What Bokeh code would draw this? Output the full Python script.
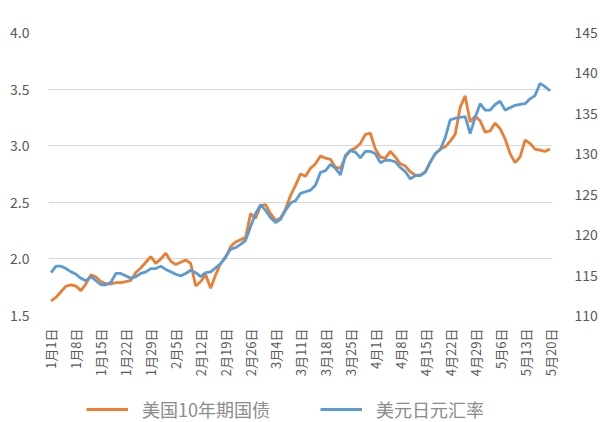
from bokeh.plotting import figure
from bokeh.layouts import column
from bokeh.models import (Range1d, LinearAxis, FixedTicker, ColumnDataSource,
                          Legend, LegendItem, Label)
from bokeh.embed import file_html
from bokeh.resources import INLINE
import math

# ---- data -------------------------------------------------------------
tick_labels = ["1月1日", "1月8日", "1月15日", "1月22日", "1月29日", "2月5日",
               "2月12日", "2月19日", "2月26日", "3月4日", "3月11日", "3月18日",
               "3月25日", "4月1日", "4月8日", "4月15日", "4月22日", "4月29日",
               "5月6日", "5月13日", "5月20日"]

us10y = [1.63, 1.66, 1.71, 1.76, 1.77, 1.76, 1.72, 1.78, 1.86, 1.84,
         1.80, 1.78, 1.78, 1.79, 1.79, 1.80, 1.81, 1.88, 1.92, 1.97,
         2.02, 1.96, 2.00, 2.05, 1.98, 1.95, 1.97, 1.99, 1.96, 1.76,
         1.80, 1.86, 1.74, 1.86, 1.96, 2.01, 2.11, 2.15, 2.17, 2.19,
         2.40, 2.36, 2.47, 2.48, 2.40, 2.34, 2.36, 2.44, 2.56, 2.65,
         2.75, 2.73, 2.80, 2.84, 2.91, 2.89, 2.88, 2.81, 2.80, 2.90,
         2.96, 2.98, 3.02, 3.10, 3.11, 2.97, 2.90, 2.89, 2.95, 2.90,
         2.84, 2.82, 2.77, 2.74, 2.74, 2.77, 2.85, 2.93, 2.97, 2.99,
         3.04, 3.10, 3.34, 3.44, 3.21, 3.26, 3.22, 3.12, 3.13, 3.20,
         3.15, 3.06, 2.93, 2.85, 2.90, 3.05, 3.02, 2.97, 2.96, 2.95,
         2.97]

usdjpy = [115.3, 116.1, 116.1, 115.8, 115.4, 115.1, 114.6, 114.3, 114.8, 114.3,
          113.8, 113.8, 114.1, 115.2, 115.2, 114.9, 114.6, 114.8, 115.2, 115.4,
          115.8, 115.8, 116.1, 115.7, 115.4, 115.1, 114.9, 115.2, 115.6, 115.3,
          114.8, 115.3, 115.4, 115.9, 116.4, 117.3, 118.2, 118.4, 118.8, 119.3,
          121.0, 122.6, 123.7, 123.0, 122.1, 121.5, 121.9, 123.0, 123.9, 124.2,
          125.1, 125.3, 125.5, 126.1, 127.7, 127.9, 128.7, 128.2, 127.4, 129.8,
          130.4, 130.2, 129.5, 130.3, 130.3, 130.0, 128.9, 129.2, 129.2, 129.0,
          128.3, 127.8, 126.9, 127.3, 127.3, 127.7, 129.0, 130.0, 130.5, 132.0,
          134.2, 134.4, 134.5, 134.6, 132.5, 134.5, 136.2, 135.4, 135.4, 136.1,
          136.5, 135.4, 135.7, 136.0, 136.1, 136.2, 136.8, 137.2, 138.7, 138.3,
          137.8]

series_names = ["美国10年期国债", "美元日元汇率"]
series_colors = ["#ED7D31", "#5B9BD5"]

left_ticks = [1.5, 2.0, 2.5, 3.0, 3.5, 4.0]
right_ticks = [110, 115, 120, 125, 130, 135, 140, 145]

x_idx = list(range(len(us10y)))
tick_pos = x_idx[::5]

# ---- main figure ------------------------------------------------------
FONT = "Noto Sans CJK SC"
LBL = "#595959"

p = figure(width=600, height=397, output_backend="svg", toolbar_location=None,
           x_range=Range1d(-0.5, len(us10y) - 0.5), y_range=Range1d(1.5, 4.0),
           min_border_left=48, min_border_right=48, min_border_top=32,
           min_border_bottom=82)
p.outline_line_color = None
p.background_fill_color = "white"
p.border_fill_color = "white"
p.extra_y_ranges = {"fx": Range1d(110, 145)}

src = ColumnDataSource(dict(x=x_idx, us=us10y, jp=usdjpy))
r1 = p.line("x", "us", source=src, line_color=series_colors[0], line_width=2.8)
r2 = p.line("x", "jp", source=src, line_color=series_colors[1], line_width=2.8,
            y_range_name="fx")

# x axis
xa = p.xaxis[0]
xa.ticker = FixedTicker(ticks=tick_pos)
xa.major_label_overrides = {t: s for t, s in zip(tick_pos, tick_labels)}
xa.major_label_orientation = math.pi / 2
xa.axis_line_color = None
xa.major_tick_line_color = None
xa.minor_tick_line_color = None
xa.major_label_standoff = 7
xa.major_label_text_font = FONT
xa.major_label_text_font_size = "13px"
xa.major_label_text_color = LBL

# left axis
ya = p.yaxis[0]
ya.ticker = FixedTicker(ticks=left_ticks)
ya.major_label_overrides = {t: f"{t:.1f}" for t in left_ticks}
ya.axis_line_color = None
ya.major_tick_line_color = None
ya.minor_tick_line_color = None
ya.major_label_standoff = 13
ya.major_label_text_font = FONT
ya.major_label_text_font_size = "14px"
ya.major_label_text_color = LBL

# right axis
ra = LinearAxis(y_range_name="fx", ticker=FixedTicker(ticks=right_ticks))
ra.axis_line_color = None
ra.major_tick_line_color = None
ra.minor_tick_line_color = None
ra.major_label_standoff = 16
ra.major_label_text_font = FONT
ra.major_label_text_font_size = "14px"
ra.major_label_text_color = LBL
p.add_layout(ra, "right")

p.xgrid.visible = False
p.ygrid.ticker = FixedTicker(ticks=left_ticks)
p.ygrid.grid_line_color = "#d9d9d9"
p.ygrid.grid_line_width = 1

p.add_layout(Label(x=-0.5, y=4.0, x_offset=-20, y_offset=12, text="(%)",
                   text_font=FONT, text_font_size="12px", text_color=LBL))

# ---- legend strip (same series, plotted out of view; only legend shows) --
lg = figure(width=600, height=25, output_backend="svg", toolbar_location=None,
            x_range=Range1d(0, 1), y_range=Range1d(0, 1),
            x_axis_location=None, y_axis_location=None,
            min_border_left=0, min_border_right=0, min_border_top=0,
            min_border_bottom=0)
lg.outline_line_color = None
lg.xgrid.visible = False
lg.ygrid.visible = False
d1 = lg.line("x", "us", source=src, line_color=series_colors[0], line_width=3)
d2 = lg.line("x", "jp", source=src, line_color=series_colors[1], line_width=3)
legend = Legend(items=[LegendItem(label=series_names[0], renderers=[d1]),
                       LegendItem(label=series_names[1], renderers=[d2])],
                orientation="horizontal", location=(38, 0),
                label_text_font=FONT, label_text_font_size="18px",
                label_text_color="#8c8c8c", glyph_width=42, label_standoff=14,
                spacing=50, border_line_color=None, background_fill_alpha=0,
                margin=0, padding=0)
lg.add_layout(legend, "center")

layout = column(p, lg, spacing=0)
open("out.html", "w").write(file_html(layout, INLINE))
